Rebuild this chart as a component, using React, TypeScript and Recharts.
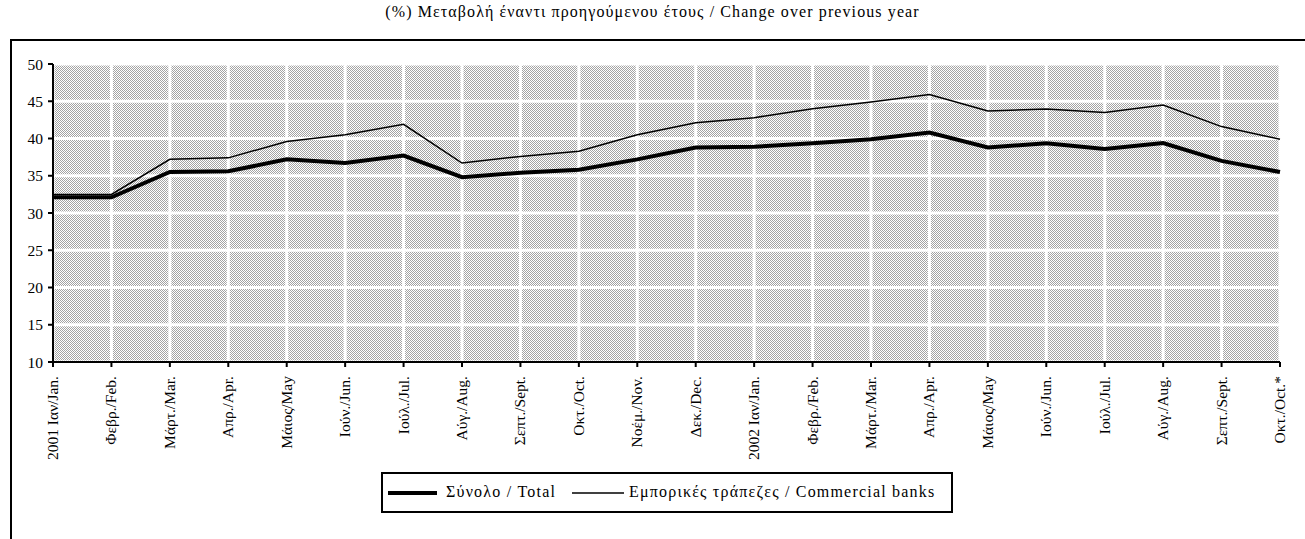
import React from 'react';
import { LineChart, Line, XAxis, YAxis, CartesianGrid } from 'recharts';

const categories = [
  '2001 Ιαν/Jan.', 'Φεβρ./Feb.', 'Μάρτ./Mar.', 'Απρ./Apr.', 'Μάιος/May', 'Ιούν./Jun.',
  'Ιούλ./Jul.', 'Αύγ./Aug.', 'Σεπτ./Sept.', 'Οκτ./Oct.', 'Νοέμ./Nov.', 'Δεκ./Dec.',
  '2002 Ιαν/Jan.', 'Φεβρ./Feb.', 'Μάρτ./Mar.', 'Απρ./Apr.', 'Μάιος/May', 'Ιούν./Jun.',
  'Ιούλ./Jul.', 'Αύγ./Aug.', 'Σεπτ./Sept.', 'Οκτ./Oct.*',
];
const totalValues = [
  32.1, 32.1, 35.5, 35.6, 37.2, 36.7, 37.7, 34.8, 35.4, 35.8, 37.2, 38.8,
  38.9, 39.35, 39.9, 40.8, 38.8, 39.35, 38.6, 39.4, 37.0, 35.5,
];
const commercialValues = [
  32.5, 32.5, 37.2, 37.4, 39.6, 40.5, 41.9, 36.7, 37.6, 38.3, 40.5, 42.1,
  42.8, 44.0, 44.9, 45.9, 43.7, 43.95, 43.5, 44.5, 41.6, 39.9,
];
const yTicks = [10, 15, 20, 25, 30, 35, 40, 45, 50];
const seriesNames = ['Σύνολο / Total', 'Εμπορικές τράπεζες / Commercial banks'];
const titleText = '(%) Μεταβολή έναντι προηγούμενου έτους / Change over previous year';

const data = categories.map((c, i) => ({
  idx: i,
  total: totalValues[i],
  commercial: commercialValues[i],
}));

const FONT = '"Liberation Serif", "Times New Roman", serif';

const XTick = (props: any) => {
  const { x, y, payload } = props;
  return (
    <text
      transform={`translate(${x + 5},${y + 7}) rotate(-90)`}
      textAnchor="end"
      fontFamily={FONT}
      fontSize={15.5}
      fill="#000"
    >
      {categories[payload.value]}
    </text>
  );
};

export default function App() {
  return (
    <div style={{ position: 'fixed', left: 0, top: 0, width: 1305, height: 539, background: '#fff', overflow: 'hidden', fontFamily: FONT }}>
      <svg width={0} height={0} style={{ position: 'absolute' }}>
        <defs>
          <pattern id="dots" patternUnits="userSpaceOnUse" x={0} y={0} width={2} height={2}>
            <rect x={0} y={0} width={2} height={2} fill="#ffffff" />
            <rect x={0} y={0} width={1} height={1} fill="#a3a3a3" />
            <rect x={1} y={1} width={1} height={1} fill="#a3a3a3" />
          </pattern>
        </defs>
      </svg>
      <div style={{ position: 'absolute', left: 10, top: 39, width: 1400, height: 600, borderLeft: '2px solid #000', borderTop: '2px solid #000', boxSizing: 'border-box' }} />
      <div style={{ position: 'absolute', left: 0, top: 3, width: 1305, textAlign: 'center', fontSize: 16, letterSpacing: 1.1, lineHeight: '18px', whiteSpace: 'nowrap' }}>
        {titleText}
      </div>
      <div style={{ position: 'absolute', left: 0, top: 0 }}>
        <LineChart width={1305} height={539} data={data} margin={{ top: 64, right: 25, bottom: 77, left: 0 }}>
          <CartesianGrid stroke="#ffffff" strokeWidth={3} fill="url(#dots)" fillOpacity={1} />
          <XAxis
            dataKey="idx"
            type="category"
            interval={0}
            height={100}
            tick={<XTick />}
            tickSize={5}
            tickLine={{ stroke: '#000', strokeWidth: 2 }}
            axisLine={{ stroke: '#000', strokeWidth: 2 }}
            padding={{ left: 0, right: 0 }}
          />
          <YAxis
            domain={[10, 50]}
            ticks={yTicks}
            interval={0}
            width={53}
            tickSize={5}
            tickMargin={5}
            tickLine={{ stroke: '#000', strokeWidth: 2 }}
            axisLine={{ stroke: '#000', strokeWidth: 2 }}
            tick={{ fontFamily: FONT, fontSize: 15.5, fill: '#000' }}
          />
          <Line type="linear" dataKey="commercial" name={seriesNames[1]} stroke="#000" strokeWidth={1.5} dot={false} isAnimationActive={false} />
          <Line type="linear" dataKey="total" name={seriesNames[0]} stroke="#000" strokeWidth={4} dot={false} isAnimationActive={false} />
        </LineChart>
      </div>
      <div style={{ position: 'absolute', left: 381, top: 472, width: 572, height: 41, border: '2px solid #000', boxSizing: 'border-box', fontSize: 16, letterSpacing: 1.2 }}>
        <svg width={50} height={10} style={{ position: 'absolute', left: 5, top: 14 }}>
          <line x1={0} y1={5} x2={49} y2={5} stroke="#000" strokeWidth={4} />
        </svg>
        <span style={{ position: 'absolute', left: 63, top: 9, lineHeight: '18px', whiteSpace: 'nowrap' }}>{seriesNames[0]}</span>
        <svg width={54} height={10} style={{ position: 'absolute', left: 189, top: 14 }}>
          <line x1={0} y1={5} x2={52} y2={5} stroke="#000" strokeWidth={1.5} />
        </svg>
        <span style={{ position: 'absolute', left: 246, top: 9, lineHeight: '18px', whiteSpace: 'nowrap' }}>{seriesNames[1]}</span>
      </div>
    </div>
  );
}
